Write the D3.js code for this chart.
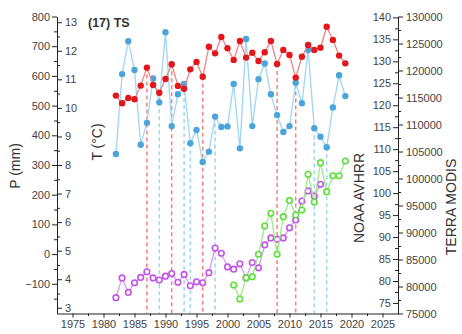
<!DOCTYPE html>
<html><head><meta charset="utf-8">
<script src="https://cdn.jsdelivr.net/npm/d3@7"></script>
<style>
body{margin:0;background:#fff;}
svg{display:block;font-family:"Liberation Sans",Arial,sans-serif;}
.ax path,.ax line{stroke:#222;}
.ax text{fill:#444;font-size:11px;}
</style></head><body>
<svg id="c" width="462" height="334"></svg>
<script>
const yearsTP = d3.range(1982, 2020);
const precip = [337,606,717,620,368,442,591,511,747,431,538,573,373,418,310,345,463,428,430,573,356,724,431,589,642,538,468,411,431,577,508,687,424,395,360,494,602,532];
const temp = [10.43,10.16,10.35,10.30,10.78,11.41,10.80,10.53,11.01,11.53,10.77,10.67,11.35,11.61,11.09,12.14,11.91,12.48,12.09,11.68,12.34,11.76,11.93,11.64,11.95,12.34,11.54,12.03,11.85,11.06,11.79,12.20,12.03,12.11,12.84,12.38,11.83,11.56];
const yearsNOAA = d3.range(1982, 2016);
const noaa = [76.2,80.7,77.4,79.6,80.8,82.1,80.7,80.2,81.1,81.7,79.7,81.5,78.9,79.8,79.6,81.9,87.5,86.3,83.2,82.7,83.9,80.7,84.2,83.0,88.2,89.8,89.5,89.8,92.1,93.9,98.2,100.5,99.3,102.0];
const yearsMODIS = d3.range(2001, 2020);
const modis = [80276,77684,81628,81813,85962,91203,93555,85962,92925,95944,93240,94166,100777,95647,102925,97555,100499,100499,103240];
const tempBreaks = [1987,1991,1996,2008,2011];
const precipBreaks = [1989,1993,1994,1998,2014,2016];
const xTicks = [1975,1980,1985,1990,1995,2000,2005,2010,2015,2020,2025];
const pTicks = [-100,0,100,200,300,400,500,600,700,800];
const tTicks = [3,4,5,6,7,8,9,10,11,12,13];
const noaaTicks = [75,80,85,90,95,100,105,110,115,120,125,130,135,140];
const modisTicks = [75000,80000,85000,90000,95000,100000,105000,110000,115000,120000,125000,130000];

const L=57, R=398, T=16.5, B=313.5;
const svg = d3.select('#c');
const x = d3.scaleLinear().domain([1972.5,2027.5]).range([L,R]);
const yP = d3.scaleLinear().domain([-200,800]).range([B,T]);
const yT = d3.scaleLinear().domain([2.8,13.2]).range([B,T]);
const yN = d3.scaleLinear().domain([72.6,140.2]).range([B,T]);
const yM = d3.scaleLinear().domain([75000,130000]).range([B,T]);

const red='#e3161c', redL='#f28282', blue='#4ba5da', blueL='#9ed6f3', mag='#c254e6', magL='#d99cec', grn='#5ee03c', grnL='#9beb8c';
svg.append('g').selectAll('line').data(tempBreaks).join('line')
 .attr('x1',d=>x(d)).attr('x2',d=>x(d)).attr('y1',d=>yT(temp[yearsTP.indexOf(d)])).attr('y2',B)
 .attr('stroke',redL).attr('stroke-width',1.5).attr('stroke-dasharray','4,3');
svg.append('g').selectAll('line').data(precipBreaks).join('line')
 .attr('x1',d=>x(d)).attr('x2',d=>x(d)).attr('y1',d=>yP(precip[yearsTP.indexOf(d)])).attr('y2',B)
 .attr('stroke',blueL).attr('stroke-width',1.5).attr('stroke-dasharray','4,3');

function series(xs, vs, sc, lc, pc, filled){
  const pts = xs.map((d,i)=>[x(d), sc(vs[i])]);
  svg.append('path').attr('d', d3.line()(pts)).attr('fill','none').attr('stroke',lc).attr('stroke-width',1.3);
  svg.append('g').selectAll('circle').data(pts).join('circle')
   .attr('cx',d=>d[0]).attr('cy',d=>d[1]).attr('r',filled?3.2:2.8)
   .attr('fill',filled?pc:'#fff').attr('stroke',pc).attr('stroke-width',filled?0:1.6);
}
series(yearsNOAA, noaa, yN, magL, mag, false);
series(yearsMODIS, modis, yM, grnL, grn, false);
series(yearsTP, precip, yP, blueL, blue, true);
series(yearsTP, temp, yT, redL, red, true);

function minor(g, axisFn, scale, vals, size){
  g.append('g').call(axisFn(scale).tickValues(vals).tickSize(size).tickFormat('')).call(s=>s.select('.domain').remove());
}
const gx = svg.append('g').attr('class','ax').attr('transform',`translate(0,${B})`);
gx.call(d3.axisBottom(x).tickValues(xTicks).tickSize(4).tickSizeOuter(0).tickPadding(3).tickFormat(d3.format('d')));
minor(gx, d3.axisBottom, x, d3.range(1977.5,2027,5), 2.5);

const gl = svg.append('g').attr('class','ax').attr('transform',`translate(${L},0)`);
gl.call(d3.axisLeft(yP).tickValues(pTicks).tickSize(5).tickSizeOuter(0).tickPadding(2));
minor(gl, d3.axisLeft, yP, d3.range(-150,800,100), 3);
const gt = svg.append('g').attr('class','ax').attr('transform',`translate(${L},0)`);
gt.call(d3.axisRight(yT).tickValues(tTicks).tickSize(5).tickSizeOuter(0).tickPadding(3));
minor(gt, d3.axisRight, yT, d3.range(3.5,13,1), 3);

const gn = svg.append('g').attr('class','ax').attr('transform',`translate(${R},0)`);
gn.call(d3.axisLeft(yN).tickValues(noaaTicks).tickSize(5).tickSizeOuter(0).tickPadding(2));
minor(gn, d3.axisLeft, yN, d3.range(77.5,140,5), 3);
const gm = svg.append('g').attr('class','ax').attr('transform',`translate(${R},0)`);
gm.call(d3.axisRight(yM).tickValues(modisTicks).tickSize(5).tickSizeOuter(0).tickPadding(3).tickFormat(d3.format('d')));
minor(gm, d3.axisRight, yM, d3.range(77500,130000,5000), 3);

function vtitle(t, cx, cy){
  svg.append('text').attr('transform',`translate(${cx},${cy}) rotate(-90)`).attr('text-anchor','middle')
   .attr('dy','0.35em').attr('font-size',14).attr('fill','#333').text(t);
}
vtitle('P (mm)', 15, 166);
vtitle('T (°C)', 97, 142);
vtitle('NOAA AVHRR', 359, 198);
vtitle('TERRA MODIS', 451, 207);
svg.append('text').attr('x',88).attr('y',27).attr('font-size',12.5).attr('font-weight','bold').attr('fill','#333').text('(17) TS');
</script></body></html>
